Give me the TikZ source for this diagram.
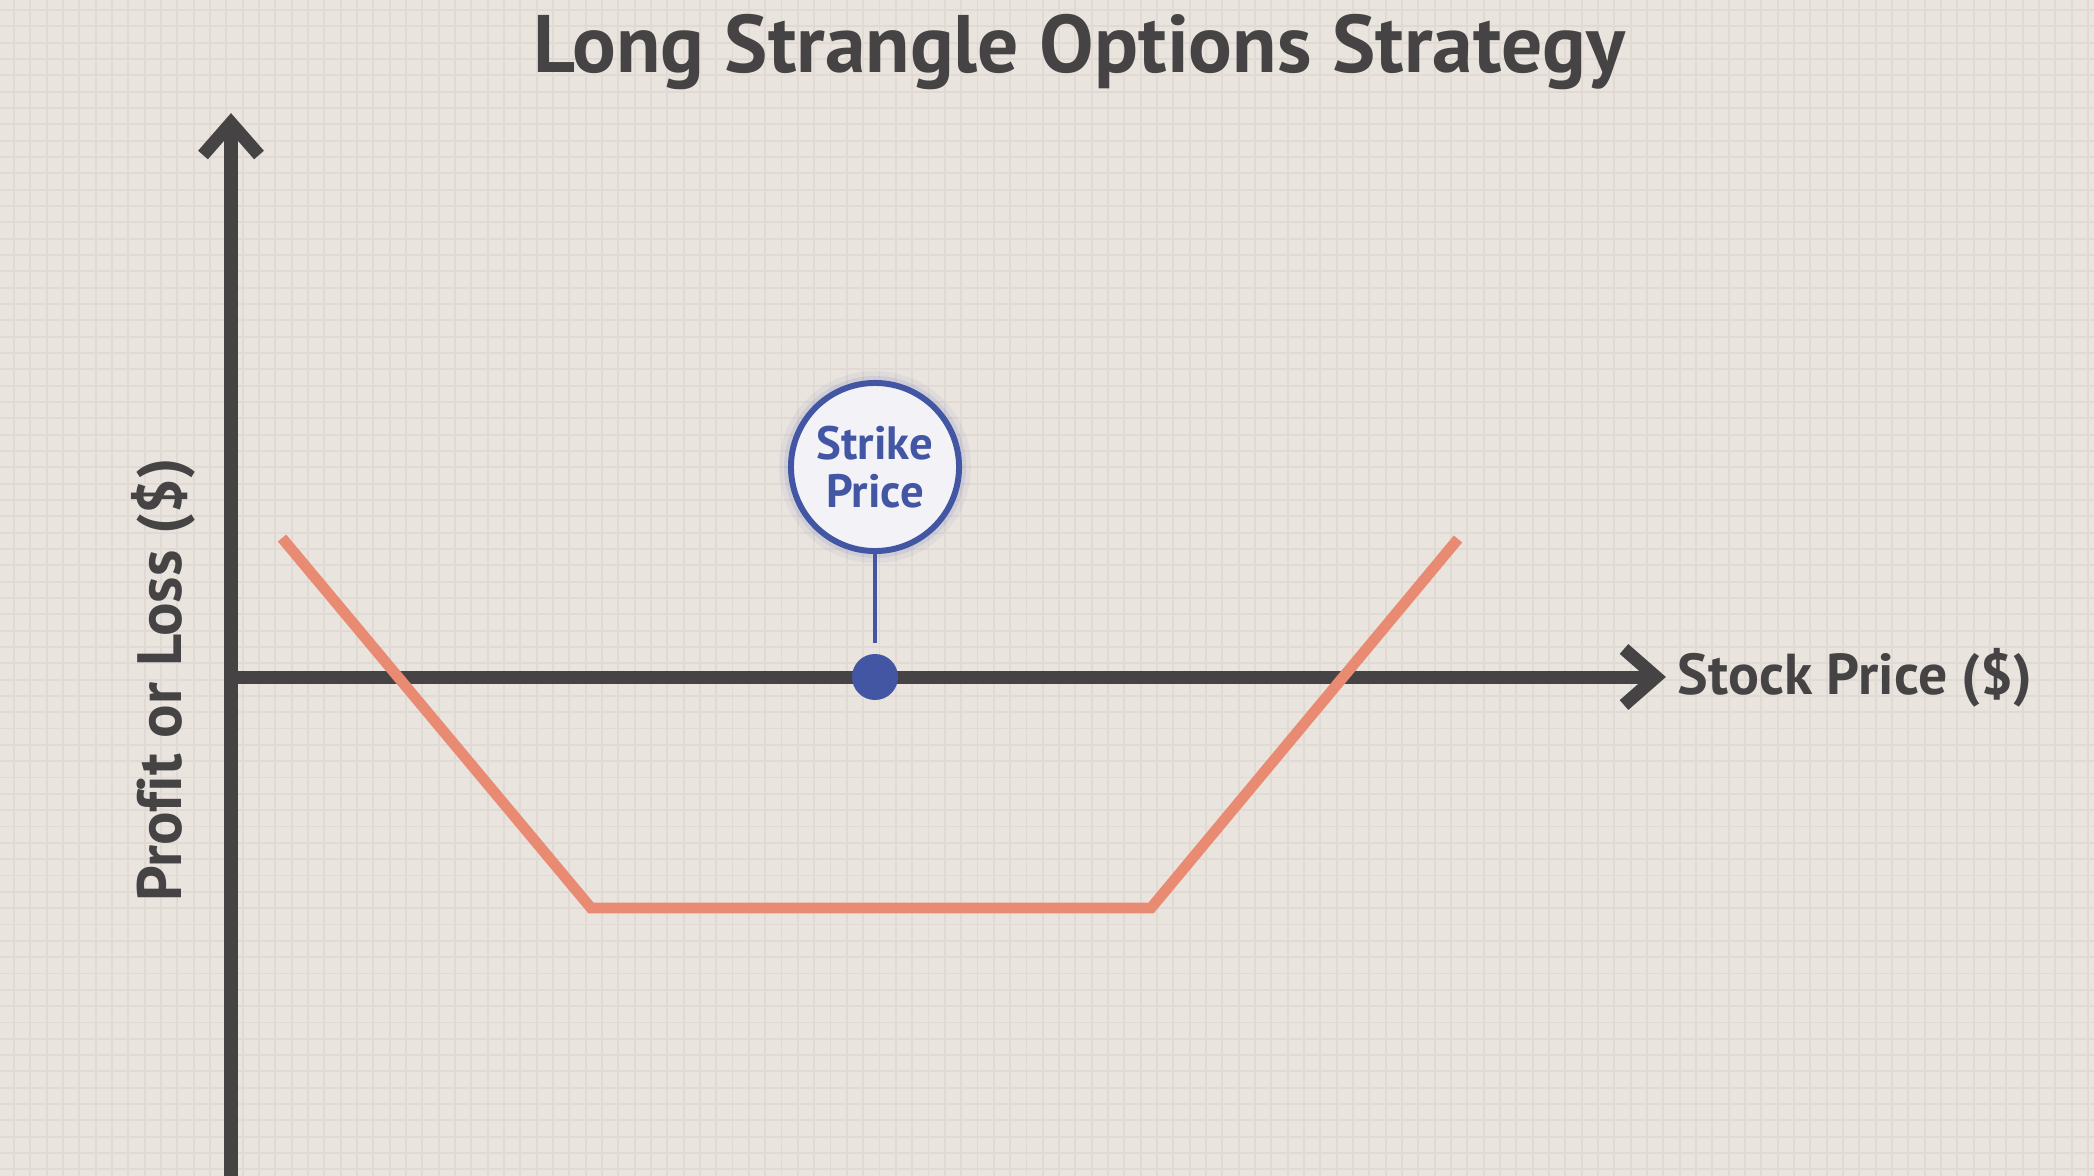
\documentclass[tikz,border=0pt]{standalone}
\usepackage{fontspec}
\setmainfont{PT Sans}[Ligatures=NoCommon]
\usepackage{tikz}
\usetikzlibrary{calc}
\definecolor{paper}{HTML}{EAE4DF}
\definecolor{gridc}{HTML}{E1D9D4}
\definecolor{ink}{HTML}{454343}
\definecolor{salmon}{HTML}{E98B72}
\definecolor{strikeblue}{HTML}{4356A4}
\definecolor{bubble}{HTML}{F3F2F6}
\tikzset{
	axisline/.style={line width=3.7pt, color=ink, line cap=butt, line join=miter},
	payoff/.style={line width=3.1pt, color=salmon, line cap=butt, line join=miter},
	gridline/.style={line width=0.55pt, color=gridc},
	strikebubble/.style={circle, draw=strikeblue, line width=1.7pt, fill=bubble, minimum size=1.68cm, inner sep=0pt,
		text=strikeblue, font=\fontsize{13.3}{13.7}\selectfont\bfseries, align=center},
	strikedot/.style={circle, fill=strikeblue, minimum size=0.46cm, inner sep=0pt},
	axislabel/.style={text=ink, inner sep=0pt}
}
\begin{document}
\begin{tikzpicture}[x=0.01cm, y=-0.01cm]
		%%%%% START %%%%%
		
		\fill[paper] (0, 0) rectangle (2094, 1176);
		\useasboundingbox (0, 0) rectangle (2094, 1176);
		\foreach \i in {0,...,128} \draw[gridline] ({14+16.33*\i}, 0) -- ({14+16.33*\i}, 1176);
		\foreach \j in {0,...,72} \draw[gridline] (0, {10+16.33*\j}) -- (2094, {10+16.33*\j});
		
		\node[text=ink, font=\fontsize{23.2}{26}\selectfont\bfseries, anchor=base, inner sep=0pt] (title) at (1079, 73) {Long Strangle Options Strategy};
		
		% axes
		\coordinate (origin) at (231, 677);
		\coordinate (ytip) at (231, 123);
		\coordinate (ybottom) at (231, 1190);
		\coordinate (xtip) at (1656, 677);
		\draw[axisline] (ybottom) -- (ytip);
		\draw[axisline] ($(ytip)+(-28, 32)$) -- (ytip) -- ($(ytip)+(28, 32)$);
		\draw[axisline] ($(origin)+(-6, 0)$) -- (xtip);
		\draw[axisline] ($(xtip)+(-32, -28)$) -- (xtip) -- ($(xtip)+(-32, 28)$);
		
		\node[axislabel, font=\fontsize{16.4}{20}\selectfont\bfseries, anchor=base west] (xlabel) at (1677, 694) {Stock Price (\$)};
		\node[axislabel, font=\fontsize{17.8}{20}\selectfont\bfseries, anchor=base, rotate=90] (ylabel) at (181, 680) {Profit or Loss (\$)};
		
		% strangle payoff
		\coordinate (p1) at (282, 538);
		\coordinate (p2) at (591, 908);
		\coordinate (p3) at (1151, 908);
		\coordinate (p4) at (1458, 539);
		\draw[payoff] (p1) -- (p2) -- (p3) -- (p4);
		
		% strike marker
		\fill[strikeblue, opacity=0.06] (875, 467) circle (96);
		\fill[strikeblue, opacity=0.10] (875, 467) circle (91);
		\node[strikebubble] (strike) at (875, 467) {Strike\\Price};
		\node[strikedot] (dot) at (875, 677) {};
		\coordinate (stemend) at (875, 643);
		\draw[line width=1.4pt, color=strikeblue] (strike.south) -- (stemend);
		
		%%%%% END %%%%%
	\end{tikzpicture}
\end{document}
